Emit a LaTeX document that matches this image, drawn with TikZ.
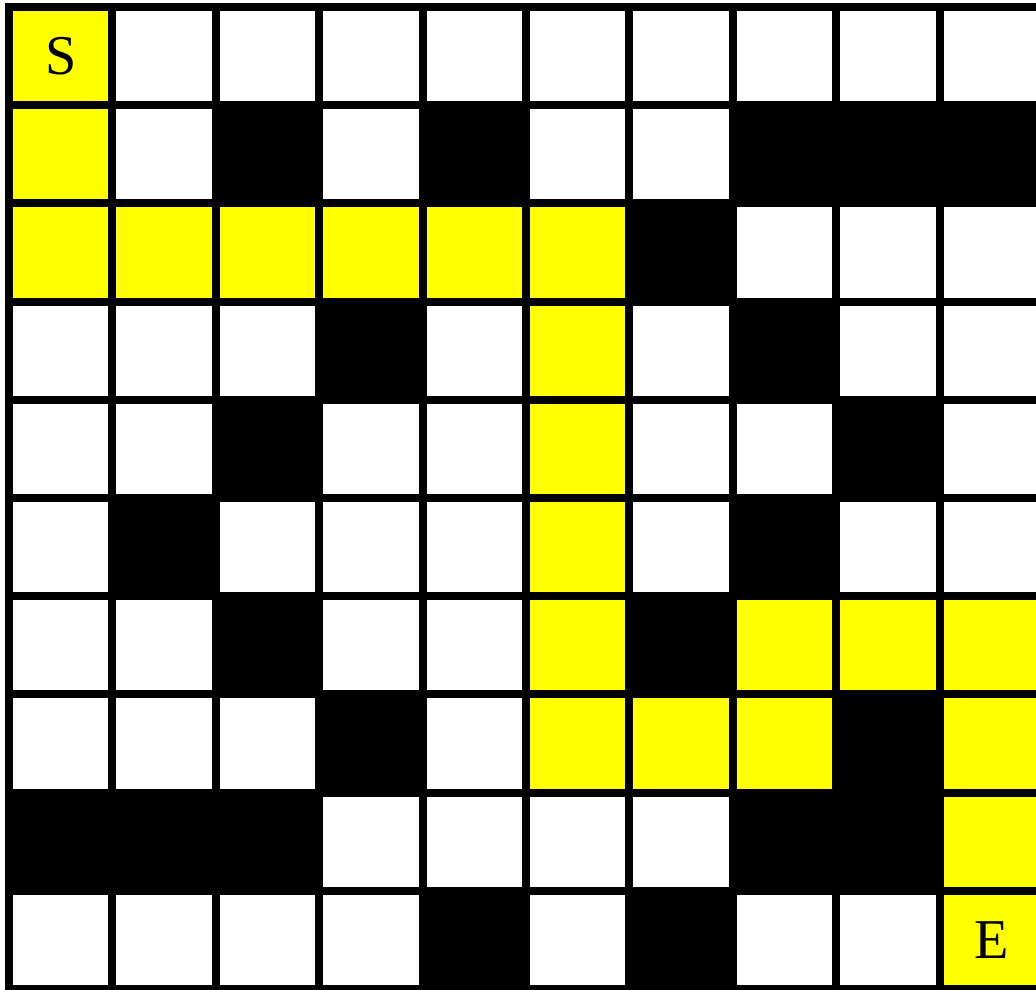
\documentclass[tikz,border=0pt]{standalone}
\usepackage{fontspec}
\setmainfont{Liberation Serif}
\usepackage{tikz}
\usetikzlibrary{positioning}
\definecolor{routeyellow}{RGB}{255,255,0}

\begin{document}
\begin{tikzpicture}[
    x=0.02cm, y=-0.02cm,
    cell/.style={rectangle, draw=black, line width=0.16cm, minimum width=2.068cm,
                 minimum height=1.964cm, inner sep=0pt, outer sep=0pt},
    free/.style={fill=white},
    wall/.style={fill=black},
    trail/.style={fill=routeyellow},
    letter/.style={font=\fontsize{32}{38}\selectfont},
]
  \useasboundingbox (0,0) rectangle (1036,990);

  \foreach \row [count=\r from 0] in {
      {trail,free,free,free,free,free,free,free,free,free},
      {trail,free,wall,free,wall,free,free,wall,wall,wall},
      {trail,trail,trail,trail,trail,trail,wall,free,free,free},
      {free,free,free,wall,free,trail,free,wall,free,free},
      {free,free,wall,free,free,trail,free,free,wall,free},
      {free,wall,free,free,free,trail,free,wall,free,free},
      {free,free,wall,free,free,trail,wall,trail,trail,trail},
      {free,free,free,wall,free,trail,trail,trail,wall,trail},
      {wall,wall,wall,free,free,free,free,wall,wall,trail},
      {free,free,free,free,wall,free,wall,free,free,trail}}
    \foreach \t [count=\c from 0] in \row
      \node[cell, \t] (c-\r-\c) at ({60.7+103.4*\c}, {56.1+98.2*\r}) {};

  \node[letter] (start) at (c-0-0) {S};
  \node[letter] (end) at (c-9-9) {E};
\end{tikzpicture}
\end{document}
